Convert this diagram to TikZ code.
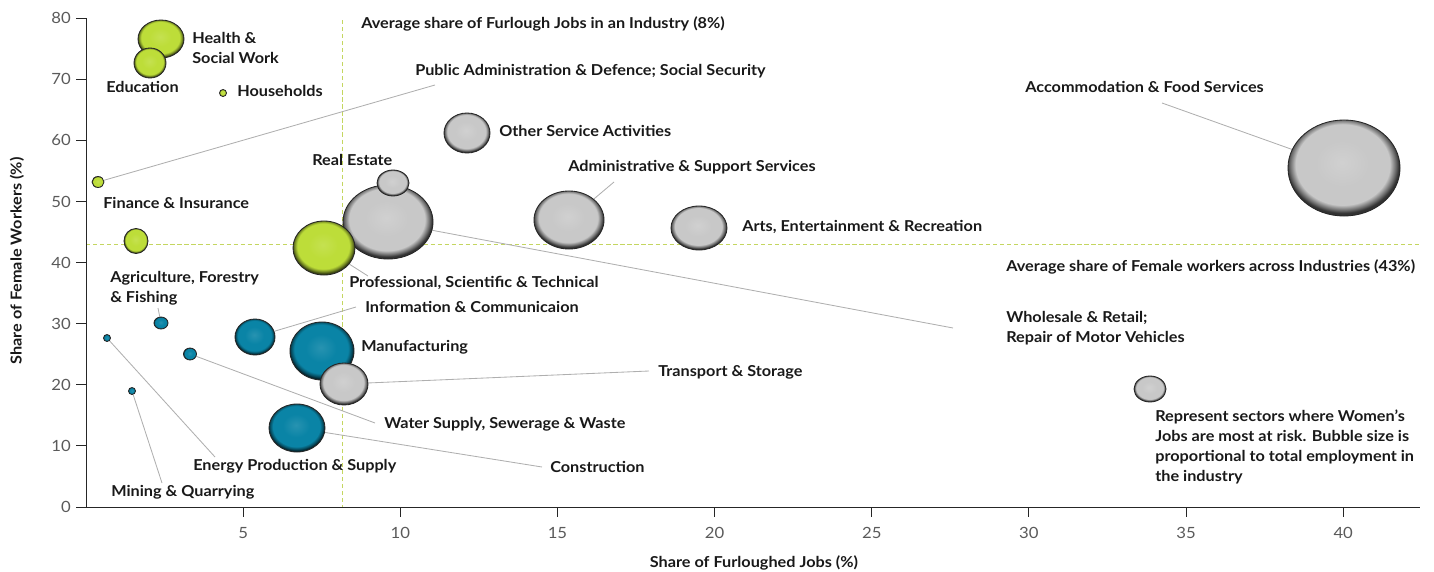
\documentclass[tikz,border=0pt]{standalone}
\usepackage{fontspec}
\setmainfont{Lato}[FakeStretch=1.08]
\usetikzlibrary{shapes.geometric}

\definecolor{bgreen}{RGB}{189,221,57}
\definecolor{bblue}{RGB}{10,132,166}
\definecolor{bgray}{RGB}{200,200,200}
\definecolor{avggreen}{RGB}{196,214,96}
\definecolor{leadgray}{RGB}{175,175,175}
\definecolor{tickgray}{RGB}{90,90,90}

\pgfdeclareradialshading{greenball}{\pgfpoint{-1bp}{3bp}}{color(0bp)=(bgreen!88!white); color(12bp)=(bgreen); color(21bp)=(bgreen); color(23.5bp)=(bgreen!60!black); color(25bp)=(bgreen!30!black); color(50bp)=(bgreen!30!black)}
\pgfdeclareradialshading{blueball}{\pgfpoint{-1bp}{3bp}}{color(0bp)=(bblue!88!white); color(12bp)=(bblue); color(21bp)=(bblue); color(23.5bp)=(bblue!60!black); color(25bp)=(bblue!30!black); color(50bp)=(bblue!30!black)}
\pgfdeclareradialshading{grayball}{\pgfpoint{-1bp}{3bp}}{color(0bp)=(bgray!85!white); color(12bp)=(bgray); color(21bp)=(bgray); color(23.5bp)=(bgray!55!black); color(25bp)=(bgray!25!black); color(50bp)=(bgray!25!black)}

\pgfdeclarelayer{bg}
\pgfsetlayers{bg,main}

\tikzset{
  bub/.style 2 args={ellipse, draw=black!85, line width=0.6pt, inner sep=0pt,
    minimum width=#1*0.05cm, minimum height=#2*0.05cm},
  greenbub/.style 2 args={bub={#1}{#2}, shading=greenball},
  bluebub/.style 2 args={bub={#1}{#2}, shading=blueball},
  graybub/.style 2 args={bub={#1}{#2}, shading=grayball},
  lbl/.style={anchor=west, inner sep=0pt, align=left, text=black!90,
    font=\bfseries\fontsize{10.7}{14.2}\selectfont},
  ticklbl/.style={inner sep=0pt, text=tickgray, font=\fontsize{11}{13}\selectfont},
  axtitle/.style={inner sep=0pt, text=black!90, font=\bfseries\fontsize{10.7}{13}\selectfont},
  leader/.style={draw=leadgray, line width=0.6pt},
  avgline/.style={draw=avggreen, line width=0.6pt, dash pattern=on 3pt off 2pt},
  axis/.style={draw=black!85, line width=0.7pt}
}

\begin{document}
\begin{tikzpicture}[x=0.025cm, y=-0.025cm]
    \useasboundingbox (0,0) rectangle (1434,572);

    % Axes
    \draw[axis] (86,18) -- (86,507);
    \draw[axis] (76,507) -- (1420,507);
    \foreach \w in {0,10,...,80} {
        \draw[axis] (76,{507-6.11*\w}) -- (86,{507-6.11*\w});
        \node (yt\w) [ticklbl, anchor=east] at (71,{507-6.11*\w}) {\w};
    }
    \foreach \v in {5,10,...,40} {
        \draw[axis] ({86+31.43*\v},507) -- ({86+31.43*\v},517);
        \node (xt\v) [ticklbl] at ({86+31.43*\v},533) {\v};
    }
    \node (xtitle) [axtitle] at (754,563) {Share of Furloughed Jobs (\%)};
    \node (ytitle) [axtitle, rotate=90] at (17,261) {Share of Female Workers (\%)};

    % Averages
    \begin{pgfonlayer}{bg}
        \draw[avgline] (342,20) -- (342,507);
        \draw[avgline] (86,244) -- (1420,244);
    \end{pgfonlayer}
    \node (avgfur) [lbl] at (361,24) {Average share of Furlough Jobs in an Industry (8\%)};
    \node (avgfem) [lbl] at (1006,267) {Average share of Female workers across Industries (43\%)};

    % Bubbles
    \node (health) [greenbub={23}{19}] at (161,39) {};
    \node (educ) [greenbub={16}{15}] at (150,63) {};
    \node (house) [greenbub={3.5}{3.5}] at (223,93) {};
    \node (pubadmin) [greenbub={6}{5.5}] at (98,182) {};
    \node (finance) [greenbub={12}{12.5}] at (136,241) {};
    \node (agri) [bluebub={7}{6}] at (161,323) {};
    \node (energy) [bluebub={3.5}{3.5}] at (107,338) {};
    \node (mining) [bluebub={3.5}{3.5}] at (132,391) {};
    \node (water) [bluebub={6.5}{6}] at (190,354) {};
    \node (info) [bluebub={20}{18}] at (255,337) {};
    \node (manuf) [bluebub={32}{29}] at (322,351) {};
    \node (transp) [graybub={24}{21}] at (344,384) {};
    \node (constr) [bluebub={28}{24}] at (297,428) {};
    \node (whole) [graybub={45}{37}] at (388,222) {};
    \node (prof) [greenbub={31}{27}] at (324,248) {};
    \node (realest) [graybub={16}{13}] at (393,183) {};
    \node (other) [graybub={23}{20}] at (467,133) {};
    \node (admin) [graybub={35}{29}] at (569,220) {};
    \node (arts) [graybub={28}{22}] at (699,228) {};
    \node (accom) [graybub={56}{48}] at (1344,168) {};
    \node (legbub) [graybub={16}{13}] at (1150,389) {};

    % Labels
    \node (healthlbl) [lbl] at (192,48) {Health \&\\Social Work};
    \node (educlbl) [lbl] at (106,87) {Education};
    \node (houselbl) [lbl] at (237,91) {Households};
    \node (publbl) [lbl] at (415,71) {Public Administration \& Defence; Social Security};
    \node (finlbl) [lbl] at (103,203) {Finance \& Insurance};
    \node (agrilbl) [lbl] at (110,288) {Agriculture, Forestry\\\& Fishing};
    \node (energylbl) [lbl] at (193,466) {Energy Production \& Supply};
    \node (mininglbl) [lbl] at (111,492) {Mining \& Quarrying};
    \node (waterlbl) [lbl] at (384,424) {Water Supply, Sewerage \& Waste};
    \node (infolbl) [lbl] at (365,307) {Information \& Communicaion};
    \node (manuflbl) [lbl] at (361,347) {Manufacturing};
    \node (transplbl) [lbl] at (658,372) {Transport \& Storage};
    \node (constrlbl) [lbl] at (550,467) {Construction};
    \node (proflbl) [lbl] at (349,283) {Professional, Scientific \& Technical};
    \node (wholelbl) [lbl] at (1006,328) {Wholesale \& Retail;\\Repair of Motor Vehicles};
    \node (realestlbl) [lbl] at (312,160) {Real Estate};
    \node (otherlbl) [lbl] at (499,131) {Other Service Activities};
    \node (adminlbl) [lbl] at (568,167) {Administrative \& Support Services};
    \node (artslbl) [lbl] at (742,227) {Arts, Entertainment \& Recreation};
    \node (accomlbl) [lbl] at (1025,87) {Accommodation \& Food Services};
    \node (leglbl) [lbl] at (1155,447) {Represent sectors where Women's\\Jobs are most at risk. Bubble size is\\proportional to total employment in\\the industry};

    % Leader lines
    \coordinate (pubend) at (435,85);
    \coordinate (agriend) at (158,308);
    \coordinate (energyend) at (215,457);
    \coordinate (miningend) at (162,483);
    \coordinate (waterend) at (375,423);
    \coordinate (infoend) at (356,307);
    \coordinate (transpend) at (649,371);
    \coordinate (constrend) at (542,467);
    \coordinate (profend) at (368,276);
    \coordinate (wholeend) at (953,328);
    \coordinate (adminend) at (614,182);
    \coordinate (accomend) at (1162,103);
    \begin{pgfonlayer}{bg}
        \draw[leader] (pubadmin) -- (pubend);
        \draw[leader] (agri) -- (agriend);
        \draw[leader] (energy) -- (energyend);
        \draw[leader] (mining) -- (miningend);
        \draw[leader] (water) -- (waterend);
        \draw[leader] (info) -- (infoend);
        \draw[leader] (transp) -- (transpend);
        \draw[leader] (constr) -- (constrend);
        \draw[leader] (prof) -- (profend);
        \draw[leader] (whole) -- (wholeend);
        \draw[leader] (admin) -- (adminend);
        \draw[leader] (accom) -- (accomend);
    \end{pgfonlayer}
\end{tikzpicture}
\end{document}
